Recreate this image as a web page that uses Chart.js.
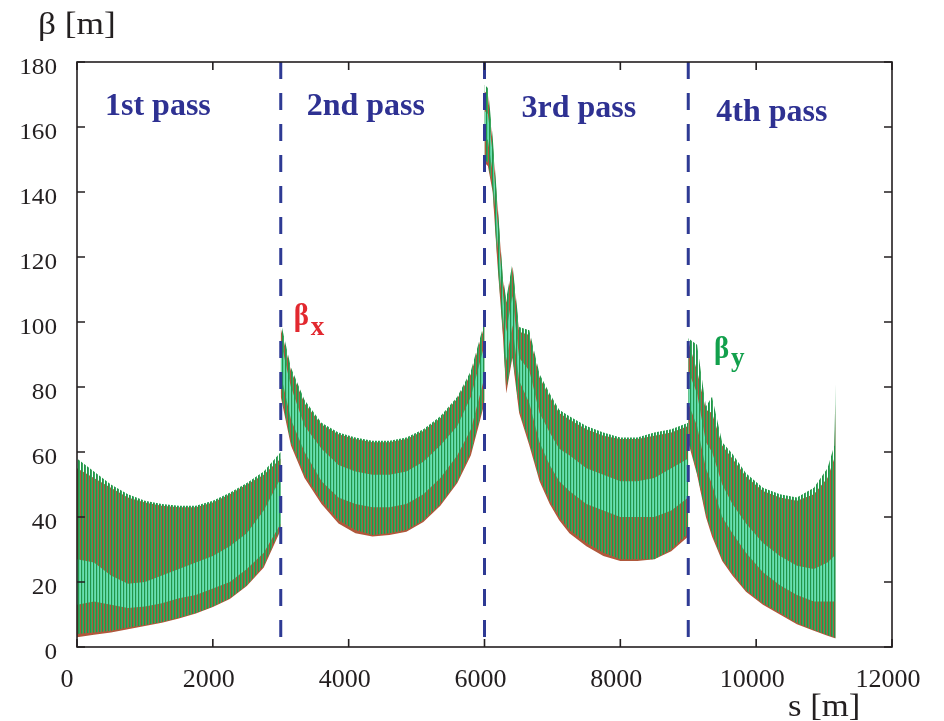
<!DOCTYPE html>
<html>
<head>
<meta charset="UTF-8" />
<title>Beta functions along the four passes</title>
<style type="text/css">
  body { margin: 0; background: #ffffff; }
  canvas { display: block; }
</style>
</head>
<body>
<canvas id="betaChart" width="944" height="721"></canvas>

<script src="https://cdn.jsdelivr.net/npm/chart.js"></script>
<script>
// s positions [m], one list per pass
const sPass = [
  [0, 250, 500, 750, 1000, 1250, 1500, 1750, 2000, 2250, 2500, 2750, 3000],
  [3000, 3150, 3350, 3600, 3850, 4100, 4350, 4600, 4850, 5100, 5350, 5600, 5800, 6000],
  [6000, 6050, 6120, 6190, 6270, 6320, 6410, 6510, 6660, 6810, 6960, 7100, 7250, 7500, 7750, 8000, 8250, 8500, 8750, 9000],
  [9000, 9130, 9260, 9350, 9500, 9650, 9850, 10100, 10350, 10600, 10850, 11050, 11150, 11170]
];
// beta_x envelope (max / min of the oscillation) [m]
const betaXHi = [
  [55, 52, 49, 46, 44.5, 43.5, 43, 43, 44.5, 47, 50, 53, 58],
  [98, 85, 75, 68.5, 65.5, 64, 63, 63, 64, 66.5, 70.5, 76.5, 84, 99],
  [171, 170, 155, 136, 113, 106, 117, 97, 96, 83, 77, 72, 70, 67, 65, 64, 64, 65, 66, 68],
  [94, 85, 73, 72, 62, 58, 52.5, 48, 46, 45, 47, 52, 58, 75]
];
const betaXLo = [
  [3, 3.8, 4.5, 5.5, 6.5, 7.5, 8.8, 10.3, 12.3, 14.8, 18.8, 24.5, 36],
  [77, 62, 52, 44, 38, 35, 34, 34.5, 35.5, 38.5, 43.5, 50.5, 59, 75],
  [149, 148, 140, 118, 96, 78, 89, 72, 62, 51, 44, 39, 35, 31, 28, 26.5, 26.5, 27, 29.5, 34],
  [63, 53, 40, 34, 26.5, 22, 17, 13, 10, 7, 5, 3.5, 2.8, 2.6]
];
// beta_y envelope [m]
const betaYHi = [
  [58, 54, 50, 47, 45, 44, 43.5, 43.5, 45, 47.5, 50.5, 54, 60],
  [100, 86, 76, 69, 66, 64.5, 63.5, 63.5, 64.5, 67, 71, 77, 85, 100],
  [173, 172, 157, 137, 114, 107, 118, 98.5, 97.5, 84, 78, 73, 71, 68, 66, 64.5, 64.5, 66, 67, 69],
  [95, 93, 74, 77, 63, 59.5, 53.5, 49, 47, 46, 49, 55, 62, 81]
];
const betaYLo = [
  [4, 4.5, 5, 6, 6.8, 7.7, 9, 10.5, 12.5, 15, 19, 25, 37],
  [78, 63, 53, 45, 39, 36, 34.5, 35, 36, 39, 44, 51, 60, 76],
  [150, 149, 141, 119, 97, 79, 90, 73, 63, 52, 45, 40, 36, 32, 29, 27, 27, 27, 30, 35],
  [64, 53.5, 41, 35, 27, 22.7, 17.5, 13.5, 10.5, 7.4, 5.2, 3.7, 3, 2.8]
];
// light inner part of beta_y [m]
const betaYCoreHi = [
  [27, 26, 22, 19.5, 20, 22, 24, 26, 28, 31, 35, 42, 52],
  [94, 80, 68, 61, 56, 54, 53, 53, 54, 57, 62, 68, 77, 93],
  [165, 164, 152, 131, 109, 97, 108, 89, 85, 72, 66, 61, 59, 55, 53, 51, 51, 52, 55, 58],
  [85, 78, 63, 60, 50, 44, 38, 32, 28, 25, 24, 26, 28, 30]
];
const betaYCoreLo = [
  [13, 14, 13, 12, 12.5, 13.5, 15, 16, 18, 20, 24, 29, 38],
  [84, 70, 60, 51, 46, 44, 43, 43, 44, 47, 52, 59, 67, 83],
  [157, 156, 146, 125, 103, 88, 99, 82, 75, 63, 56, 51, 48, 44, 42, 40, 40, 40, 42, 46],
  [75, 68, 55, 50, 40, 35, 29, 23, 19, 16, 14, 14, 14, 14]
];

const passEdges = [3000, 6000, 9000];
const passNames = ['1st pass', '2nd pass', '3rd pass', '4th pass'];
const xTicks = [0, 2000, 4000, 6000, 8000, 10000, 12000];
const yTicks = [0, 20, 40, 60, 80, 100, 120, 140, 160, 180];

// where the texts sit, in axis units (left edge, baseline)
const passLabelAt = [[412, 163.7], [3382, 163.7], [6544, 163.1], [9412, 161.8]];
const betaXLabelAt = [3190, 99];
const betaYLabelAt = [9380, 88.8];

const canvas = document.getElementById('betaChart');
const ctx = canvas.getContext('2d');

// vertical line texture of the dense betatron oscillation
function stripes(cols) {
  const c = document.createElement('canvas');
  c.width = cols.length;
  c.height = 1;
  const g = c.getContext('2d');
  cols.forEach((col, i) => {
    if (col) { g.fillStyle = col; g.fillRect(i, 0, 1, 1); }
  });
  return ctx.createPattern(c, 'repeat');
}
const greenLines = stripes(['#22954a', '#3aa65c', null]);
const mintLines = stripes([null, '#55d5a0', '#6fdcb0']);

const datasets = [];
function band(hi, lo, color, order) {
  for (let p = 0; p < sPass.length; p++) {
    datasets.push({
      data: sPass[p].map((s, i) => ({ x: s, y: hi[p][i] })),
      fill: '+1', backgroundColor: color,
      borderWidth: 0, pointRadius: 0, tension: 0, order: order
    });
    datasets.push({
      data: sPass[p].map((s, i) => ({ x: s, y: lo[p][i] })),
      fill: false, borderWidth: 0, pointRadius: 0, tension: 0, order: order
    });
  }
}
band(betaXHi, betaXLo, '#b0583c', 4);
band(betaYHi, betaYLo, greenLines, 3);
band(betaYCoreHi, betaYCoreLo, mintLines, 2);

passEdges.forEach(e => {
  datasets.push({
    data: [{ x: e, y: 180 }, { x: e, y: 0 }],
    borderColor: '#2e3a94', borderWidth: 3, borderDash: [17, 14],
    pointRadius: 0, fill: false, order: 1
  });
});

function stretchText(c, text, x, y, sx, align) {
  c.save();
  c.translate(x, y);
  c.scale(sx, 1);
  c.textAlign = align;
  c.fillText(text, 0, 0);
  c.restore();
}

const framePlugin = {
  id: 'frame',
  afterDraw(chart) {
    const c = chart.ctx;
    const a = chart.chartArea;
    const xs = chart.scales.x, ys = chart.scales.y;
    c.save();
    c.strokeStyle = '#231f20';
    c.lineWidth = 1.6;
    c.strokeRect(a.left, a.top, a.right - a.left, a.bottom - a.top);
    c.beginPath();
    xTicks.forEach(v => {
      const px = xs.getPixelForValue(v);
      c.moveTo(px, a.bottom); c.lineTo(px, a.bottom - 8);
      c.moveTo(px, a.top); c.lineTo(px, a.top + 8);
    });
    yTicks.forEach(v => {
      const py = ys.getPixelForValue(v);
      c.moveTo(a.left, py); c.lineTo(a.left + 8, py);
      c.moveTo(a.right, py); c.lineTo(a.right - 8, py);
    });
    c.stroke();

    c.fillStyle = '#231f20';
    c.textBaseline = 'middle';
    c.font = '24px "Liberation Serif", "Times New Roman", serif';
    yTicks.forEach(v => {
      stretchText(c, String(v), a.left - 20, ys.getPixelForValue(v) + 5.5, 1.05, 'right');
    });
    c.textBaseline = 'alphabetic';
    c.font = '26px "Liberation Serif", "Times New Roman", serif';
    xTicks.forEach(v => {
      stretchText(c, String(v), xs.getPixelForValue(v) - (v === 0 ? 10 : 4), 687, 1, 'center');
    });
    c.font = '31px "Liberation Serif", "Times New Roman", serif';
    stretchText(c, '\u03b2 [m]', 38, 34, 1.14, 'left');
    stretchText(c, 's [m]', 788, 716, 1.12, 'left');

    c.fillStyle = '#2e3192';
    c.font = 'bold 32px "Liberation Serif", "Times New Roman", serif';
    passNames.forEach((t, i) => {
      stretchText(c, t, xs.getPixelForValue(passLabelAt[i][0]), ys.getPixelForValue(passLabelAt[i][1]), 1, 'left');
    });

    // beta_x and beta_y tags
    const tags = [[betaXLabelAt, 'x', '#e2282f', 10], [betaYLabelAt, 'y', '#12a04c', 8]];
    tags.forEach(([at, sub, col, drop]) => {
      const px = xs.getPixelForValue(at[0]);
      const py = ys.getPixelForValue(at[1]);
      c.fillStyle = col;
      c.font = 'bold 32px "Liberation Serif", "Times New Roman", serif';
      stretchText(c, '\u03b2', px, py, 0.9, 'left');
      c.font = 'bold 27px "Liberation Serif", "Times New Roman", serif';
      stretchText(c, sub, px + 17, py + drop, 1, 'left');
    });
    c.restore();
  }
};

const betaChart = new Chart(canvas, {
  type: 'line',
  data: { datasets: datasets },
  options: {
    responsive: false,
    animation: false,
    layout: { padding: { left: 77, top: 62, right: 52, bottom: 74 } },
    scales: {
      x: { type: 'linear', min: 0, max: 12000, display: false },
      y: { type: 'linear', min: 0, max: 180, display: false }
    },
    plugins: {
      legend: { display: false },
      tooltip: { enabled: false }
    }
  },
  plugins: [framePlugin]
});
</script>
</body>
</html>
